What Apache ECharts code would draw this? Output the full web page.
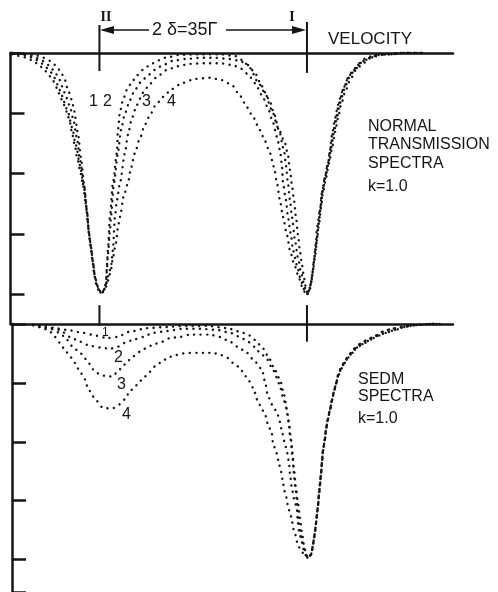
<!DOCTYPE html>
<html><head><meta charset="utf-8">
<script src="https://cdn.jsdelivr.net/npm/echarts@6/dist/echarts.min.js"></script>
<style>html,body{margin:0;padding:0;background:#fff}#c{width:498px;height:592px}</style>
</head><body><div id="c"></div>
<script>
// x: velocity in units of Γ (line II at 0, line I at 35 = 2δ); y: absorption (arbitrary units, down = more)
const lineVelocities = [0, 35];
const tickLabels = ['', '', '', '', ''];

const top1 = [[-14.76,0],[-12.57,0.02],[-10.88,0.03],[-9.7,0.07],[-8.85,0.1],[-8.01,0.15],[-7.17,0.23],[-6.49,0.32],[-5.82,0.45],[-5.31,0.61],[-4.64,0.78],[-4.3,0.95],[-3.63,1.33],[-3.12,1.73],[-2.61,2.16],[-2.11,2.61],[-1.77,2.99],[-1.43,3.22],[-1.1,3.47],[-0.76,3.72],[-0.42,3.85],[0.08,3.95],[0.42,3.98],[0.76,3.93],[1.1,3.83],[1.26,3.55],[1.43,3.27],[1.77,2.72],[2.28,2.16],[2.95,1.66],[3.12,1.28],[3.46,0.98],[3.96,0.78],[4.64,0.61],[5.48,0.48],[6.32,0.37],[7.34,0.28],[8.52,0.2],[9.7,0.13],[11.05,0.08],[13.58,0.03],[16.95,0.02],[20.32,0.02],[22.85,0.05],[24.2,0.12],[25.38,0.25],[26.73,0.48],[27.91,0.66],[29.09,0.95],[30.1,1.23],[31.28,1.49],[31.79,1.69],[32.13,1.94],[32.46,2.19],[32.8,2.44],[33.14,2.72],[33.48,3.02],[33.82,3.3],[34.16,3.52],[34.5,3.73],[34.83,3.9],[35.16,4.0],[35.5,3.9],[35.84,3.72],[36.18,3.44],[36.52,3.15],[36.69,2.89],[37.2,2.61],[37.53,2.32],[38.04,2.06],[38.55,1.83],[38.89,1.61],[39.23,1.36],[39.74,1.08],[40.24,0.86],[40.92,0.65],[41.77,0.45],[42.61,0.32],[43.62,0.2],[44.8,0.12],[46.13,0.05],[48.15,0.02],[50.68,0],[54.4,0]];

const top2 = [[-14.76,0],[-13.07,0.02],[-11.38,0.05],[-10.04,0.1],[-9.19,0.15],[-8.35,0.22],[-7.51,0.32],[-6.83,0.43],[-6.16,0.58],[-5.65,0.73],[-4.98,0.88],[-4.47,1.08],[-3.79,1.41],[-3.29,1.78],[-2.61,2.19],[-2.11,2.64],[-1.77,2.99],[-1.43,3.22],[-1.1,3.47],[-0.76,3.72],[-0.42,3.87],[0.08,3.95],[0.42,3.98],[0.76,3.93],[1.1,3.82],[1.26,3.6],[1.43,3.35],[1.77,2.97],[1.94,2.72],[2.45,2.16],[3.12,1.66],[3.63,1.28],[4.3,1.0],[5.14,0.78],[5.99,0.61],[7.0,0.48],[8.18,0.37],[9.36,0.28],[10.71,0.2],[12.4,0.13],[14.42,0.1],[16.95,0.08],[19.48,0.08],[22.01,0.1],[23.7,0.13],[25.05,0.2],[26.23,0.33],[27.07,0.48],[27.91,0.65],[28.76,0.81],[29.43,1.0],[30.27,1.28],[31.12,1.61],[31.45,1.86],[31.79,2.16],[32.13,2.44],[32.46,2.72],[32.97,3.1],[33.48,3.4],[33.99,3.63],[34.5,3.83],[34.83,3.95],[35.16,4.0],[35.5,3.92],[35.84,3.73],[36.18,3.47],[36.52,3.19],[36.86,2.89],[37.2,2.61],[37.53,2.32],[38.04,2.06],[38.55,1.83],[38.89,1.61],[39.4,1.33],[39.91,1.06],[40.41,0.83],[41.09,0.61],[41.94,0.41],[42.78,0.28],[43.79,0.17],[44.97,0.08],[46.47,0.03],[48.49,0.02],[50.68,0],[54.4,0]];

const top3 = [[-14.76,0],[-13.41,0.02],[-12.06,0.05],[-10.88,0.1],[-10.04,0.15],[-9.19,0.22],[-8.35,0.3],[-7.67,0.4],[-7.0,0.53],[-6.49,0.66],[-5.99,0.81],[-5.31,0.98],[-4.64,1.23],[-3.96,1.53],[-3.29,1.86],[-2.61,2.24],[-2.11,2.64],[-1.77,2.99],[-1.43,3.22],[-1.1,3.47],[-0.76,3.72],[-0.25,3.88],[0.25,3.98],[0.59,3.97],[0.93,3.9],[1.26,3.8],[1.6,3.65],[1.94,3.55],[2.28,3.27],[2.61,2.72],[2.95,2.44],[3.46,2.16],[4.3,1.66],[4.81,1.36],[5.48,1.08],[6.32,0.86],[7.34,0.66],[8.52,0.51],[9.87,0.38],[11.38,0.28],[13.24,0.22],[15.26,0.18],[17.79,0.17],[20.32,0.17],[22.52,0.2],[23.7,0.25],[25.05,0.35],[26.23,0.5],[27.41,0.7],[28.42,0.91],[29.26,1.15],[29.94,1.39],[30.44,1.61],[30.78,1.86],[30.95,2.16],[31.45,2.44],[31.79,2.72],[32.3,3.02],[32.63,3.27],[33.31,3.52],[33.82,3.72],[34.5,3.92],[35.0,4.0],[35.33,3.95],[35.67,3.82],[36.01,3.6],[36.35,3.35],[36.69,3.07],[37.03,2.8],[37.37,2.52],[37.7,2.27],[38.21,2.02],[38.72,1.78],[39.06,1.58],[39.57,1.31],[40.07,1.06],[40.58,0.83],[41.26,0.61],[42.1,0.41],[43.11,0.27],[44.3,0.15],[45.62,0.08],[47.31,0.03],[49.33,0.02],[51.52,0],[54.4,0]];

const top4 = [[-14.76,0.02],[-13.41,0.05],[-12.23,0.08],[-11.38,0.12],[-10.37,0.18],[-9.36,0.27],[-8.52,0.37],[-7.84,0.46],[-7.17,0.58],[-6.66,0.7],[-6.16,0.83],[-5.48,0.98],[-4.98,1.15],[-4.64,1.33],[-4.13,1.53],[-3.79,1.73],[-3.29,1.94],[-2.78,2.19],[-2.28,2.52],[-1.94,2.85],[-1.6,3.15],[-1.26,3.4],[-0.93,3.63],[-0.59,3.82],[-0.08,3.95],[0.25,3.98],[0.59,3.97],[0.93,3.93],[1.26,3.85],[1.6,3.73],[1.94,3.6],[2.28,3.4],[2.78,3.15],[3.12,2.9],[3.46,2.72],[4.13,2.36],[4.81,2.16],[5.31,1.91],[5.99,1.66],[6.83,1.41],[7.67,1.19],[8.52,1.03],[9.53,0.86],[10.71,0.73],[12.23,0.6],[13.91,0.5],[16.11,0.43],[18.64,0.41],[20.66,0.45],[22.35,0.53],[23.7,0.71],[24.88,0.9],[25.89,1.06],[27.07,1.28],[27.91,1.46],[28.76,1.66],[29.43,1.89],[29.94,2.16],[30.44,2.44],[30.95,2.72],[31.62,3.02],[32.13,3.27],[32.8,3.49],[33.48,3.68],[34.16,3.87],[34.66,3.97],[35.0,4.0],[35.33,3.95],[35.67,3.83],[36.01,3.63],[36.35,3.39],[36.69,3.1],[37.03,2.84],[37.37,2.57],[37.7,2.32],[38.21,2.07],[38.72,1.83],[39.23,1.58],[39.74,1.31],[40.24,1.08],[40.75,0.86],[41.43,0.65],[42.27,0.45],[43.28,0.28],[44.46,0.17],[45.8,0.08],[47.48,0.03],[49.5,0.02],[51.52,0],[54.4,0]];

const sedm1 = [[-11.2,0.01],[-9.19,0.03],[-7.51,0.07],[-5.48,0.1],[-2.78,0.15],[-0.42,0.2],[1.26,0.24],[2.95,0.22],[5.14,0.13],[8.01,0.07],[11.38,0.05],[14.76,0.03],[18.13,0.03],[21.5,0.07],[23.7,0.13],[25.05,0.18],[26.23,0.27],[27.41,0.39],[28.42,0.54],[29.43,0.74],[30.44,0.94],[31.12,1.19],[31.62,1.45],[31.96,1.7],[32.3,1.95],[32.46,2.2],[32.8,2.45],[33.14,2.79],[33.48,3.04],[33.82,3.29],[34.16,3.55],[34.5,3.76],[34.83,3.9],[35.16,3.97],[35.67,3.92],[35.84,3.85],[36.01,3.75],[36.18,3.65],[36.35,3.53],[36.52,3.39],[36.69,3.24],[36.86,3.08],[37.03,2.89],[37.2,2.72],[37.37,2.54],[37.53,2.35],[37.7,2.15],[38.04,1.95],[38.21,1.78],[38.55,1.61],[38.89,1.45],[39.23,1.29],[39.57,1.14],[39.91,1.01],[40.24,0.87],[40.75,0.74],[41.43,0.62],[42.1,0.52],[42.95,0.42],[43.96,0.34],[45.14,0.27],[46.47,0.2],[47.82,0.13],[49.33,0.08],[51.02,0.05],[52.88,0.02],[55.75,0],[57.4,0]];

const sedm2 = [[-11.2,0.01],[-10.88,0.03],[-8.35,0.07],[-6.66,0.1],[-4.98,0.22],[-3.29,0.3],[-1.6,0.37],[0.08,0.4],[1.77,0.42],[2.95,0.39],[4.3,0.32],[5.65,0.27],[7.34,0.22],[9.02,0.15],[11.38,0.12],[14.08,0.08],[16.95,0.08],[19.82,0.1],[22.01,0.15],[23.7,0.22],[25.05,0.3],[26.23,0.39],[27.07,0.49],[28.08,0.57],[29.09,0.74],[29.94,0.91],[30.44,1.06],[30.95,1.24],[31.45,1.41],[31.79,1.58],[31.96,1.7],[32.13,1.9],[32.46,2.08],[32.63,2.25],[32.71,2.42],[32.8,2.59],[33.14,2.84],[33.31,3.04],[33.48,3.29],[33.82,3.5],[34.16,3.66],[34.5,3.81],[34.83,3.92],[35.16,3.97],[35.67,3.92],[35.84,3.85],[36.01,3.75],[36.18,3.65],[36.35,3.53],[36.52,3.39],[36.69,3.24],[36.86,3.08],[37.03,2.89],[37.2,2.72],[37.37,2.54],[37.53,2.35],[37.7,2.15],[38.04,1.95],[38.21,1.78],[38.55,1.61],[38.89,1.45],[39.23,1.29],[39.57,1.14],[39.91,1.01],[40.24,0.87],[40.75,0.74],[41.43,0.62],[42.1,0.52],[42.95,0.42],[43.96,0.34],[45.14,0.27],[46.47,0.2],[47.82,0.13],[49.33,0.08],[51.02,0.05],[52.88,0.02],[55.75,0],[57.4,0]];

const sedm3 = [[-11.2,0.02],[-10.04,0.05],[-8.35,0.08],[-6.66,0.15],[-5.48,0.27],[-4.47,0.39],[-3.29,0.49],[-2.11,0.61],[-1.1,0.77],[0.08,0.86],[1.26,0.89],[2.28,0.89],[2.95,0.82],[3.79,0.74],[4.64,0.64],[5.65,0.55],[6.83,0.47],[8.01,0.4],[9.02,0.35],[10.54,0.3],[11.89,0.24],[13.58,0.22],[15.26,0.18],[16.95,0.18],[18.64,0.18],[20.32,0.22],[22.01,0.3],[23.36,0.39],[24.88,0.49],[26.23,0.64],[27.41,0.77],[27.91,0.97],[28.42,1.23],[29.26,1.39],[29.94,1.5],[30.44,1.66],[30.78,1.83],[31.28,2.03],[31.62,2.17],[31.96,2.34],[32.13,2.54],[32.46,2.79],[32.8,2.96],[33.31,3.13],[33.48,3.38],[33.65,3.51],[33.99,3.63],[34.16,3.71],[34.5,3.85],[34.83,3.93],[35.16,3.97],[35.67,3.92],[35.84,3.85],[36.01,3.75],[36.18,3.65],[36.35,3.53],[36.52,3.39],[36.69,3.24],[36.86,3.08],[37.03,2.89],[37.2,2.72],[37.37,2.54],[37.53,2.35],[37.7,2.15],[38.04,1.95],[38.21,1.78],[38.55,1.61],[38.89,1.45],[39.23,1.29],[39.57,1.14],[39.91,1.01],[40.24,0.89],[40.75,0.77],[41.26,0.67],[41.94,0.57],[42.61,0.49],[43.45,0.4],[44.46,0.34],[45.62,0.27],[46.97,0.2],[48.32,0.15],[49.84,0.1],[51.52,0.05],[53.21,0.02],[56.09,0],[57.4,0]];

const sedm4 = [[-11.2,0.02],[-10.88,0.03],[-9.53,0.07],[-8.35,0.13],[-7.51,0.22],[-6.66,0.32],[-5.82,0.44],[-4.98,0.55],[-4.13,0.66],[-3.29,0.81],[-2.45,0.94],[-1.94,1.09],[-1.1,1.23],[-0.42,1.31],[0.42,1.41],[1.26,1.43],[2.28,1.43],[3.12,1.38],[4.3,1.28],[5.14,1.14],[5.99,1.06],[6.83,0.97],[7.67,0.89],[8.52,0.81],[9.36,0.72],[10.54,0.64],[11.55,0.57],[12.73,0.53],[14.08,0.5],[15.26,0.49],[16.61,0.49],[17.79,0.49],[19.14,0.49],[20.32,0.52],[21.5,0.57],[22.52,0.66],[23.7,0.74],[24.2,0.82],[25.05,0.94],[25.89,1.08],[26.73,1.31],[27.41,1.45],[27.91,1.53],[28.42,1.7],[29.09,1.87],[29.26,2.03],[29.94,2.2],[30.27,2.37],[30.61,2.5],[30.95,2.67],[31.12,2.81],[31.45,2.92],[31.79,3.08],[32.13,3.21],[32.46,3.31],[32.63,3.46],[32.97,3.56],[33.48,3.75],[33.99,3.85],[34.66,3.93],[35.16,3.97],[35.67,3.92],[35.84,3.85],[36.01,3.75],[36.18,3.65],[36.35,3.53],[36.52,3.39],[36.69,3.24],[36.86,3.08],[37.03,2.89],[37.2,2.72],[37.37,2.54],[37.53,2.35],[37.7,2.15],[38.04,1.95],[38.21,1.78],[38.55,1.61],[38.89,1.45],[39.23,1.29],[39.57,1.14],[39.91,1.01],[40.24,0.89],[40.75,0.77],[41.26,0.67],[41.94,0.57],[42.61,0.49],[43.45,0.4],[44.46,0.34],[45.62,0.27],[46.97,0.2],[48.32,0.15],[49.84,0.1],[51.52,0.05],[53.21,0.02],[56.09,0],[57.4,0]];

// vertical line markers (velocity, y-extent)
const topMarkerII = [[0,-0.465],[0,0.3]];
const topMarkerI = [[35,-0.515],[35,0.33]];
const botMarkerII = [[0,-0.32],[0,0.03]];
const botMarkerI = [[35,-0.32],[35,0.3]];

const INK = '#151515';
const chart = echarts.init(document.getElementById('c'), null, {renderer:'canvas'});

function dotted(data, xi) {
  return {type:'line', xAxisIndex:xi, yAxisIndex:xi, data:data, showSymbol:false, symbol:'none',
    smooth:0.25, smoothMonotone:'x', clip:false, silent:true,
    lineStyle:{color:INK, width:2.4, type:[0.1,6.4], cap:'round'}};
}
function solid(data, xi) {
  return {type:'line', xAxisIndex:xi, yAxisIndex:xi, data:data, showSymbol:false, symbol:'none',
    clip:false, silent:true, lineStyle:{color:INK, width:2}};
}
const axisLine = {show:true, onZero:false, lineStyle:{color:INK, width:2.5}};
function yAx(gi, max) {
  return {type:'value', gridIndex:gi, inverse:true, min:0, max:max, interval:1, position:'left',
    axisLine:axisLine, axisTick:{show:true, inside:true, length:14, lineStyle:{color:INK, width:2.5}},
    axisLabel:{show:false, formatter:(v,i)=>tickLabels[i]||''}, splitLine:{show:false}};
}
function xAx(gi, min, max) {
  return {type:'value', gridIndex:gi, min:min, max:max, position:'top',
    axisLine:axisLine, axisTick:{show:false}, axisLabel:{show:false}, splitLine:{show:false}};
}
const F = '"Liberation Sans", Arial, sans-serif';
function txt(s, x, y, size, opt) {
  return Object.assign({type:'text', x:x, y:y, style:{text:s, fill:INK, font:'normal ' + size + 'px ' + F, textVerticalAlign:'middle'}}, opt||{});
}
const graphic = [
  {type:'line', shape:{x1:112, y1:30, x2:149, y2:30}, style:{stroke:INK, lineWidth:1.6}},
  {type:'line', shape:{x1:226, y1:30, x2:294, y2:30}, style:{stroke:INK, lineWidth:1.6}},
  {type:'polygon', shape:{points:[[100,30],[114,26],[114,34]]}, style:{fill:INK}},
  {type:'polygon', shape:{points:[[306,30],[292,26],[292,34]]}, style:{fill:INK}},
  txt('2 δ=35Γ', 152, 30, 18),
  {type:'text', x:106, y:17, style:{text:'II', fill:INK, font:'bold 14px "Liberation Serif", serif', textAlign:'center', textVerticalAlign:'middle'}},
  {type:'text', x:292, y:17, style:{text:'I', fill:INK, font:'bold 14px "Liberation Serif", serif', textAlign:'center', textVerticalAlign:'middle'}},
  txt('VELOCITY', 328, 39, 17),
  txt('NORMAL', 368, 127, 16),
  txt('TRANSMISSION', 368, 145, 16),
  txt('SPECTRA', 368, 164, 16),
  txt('k=1.0', 368, 187, 16),
  txt('SEDM', 358, 380, 16),
  txt('SPECTRA', 358, 397, 16),
  txt('k=1.0', 358, 419, 16),
  txt('1', 89, 102, 16), txt('2', 103, 102, 16), txt('3', 142, 102, 16), txt('4', 167, 102, 16),
  txt('1', 102, 333, 12), txt('2', 114, 358, 16), txt('3', 117, 385, 16), txt('4', 122, 415, 16)
];

chart.setOption({
  animation:false,
  backgroundColor:'#fff',
  grid:[
    {left:10.5, right:45, top:53, height:271.125},
    {left:12, right:45, top:324, height:270.7}
  ],
  xAxis:[xAx(0,-15,59.63), xAx(1,-14.75,59.63)],
  yAxis:[yAx(0,4.5), yAx(1,4.55)],
  series:[
    dotted(top1,0), dotted(top2,0), dotted(top3,0), dotted(top4,0),
    dotted(sedm1,1), dotted(sedm2,1), dotted(sedm3,1), dotted(sedm4,1),
    solid(topMarkerII,0), solid(topMarkerI,0), solid(botMarkerII,1), solid(botMarkerI,1)
  ],
  graphic:graphic
});
</script></body></html>
